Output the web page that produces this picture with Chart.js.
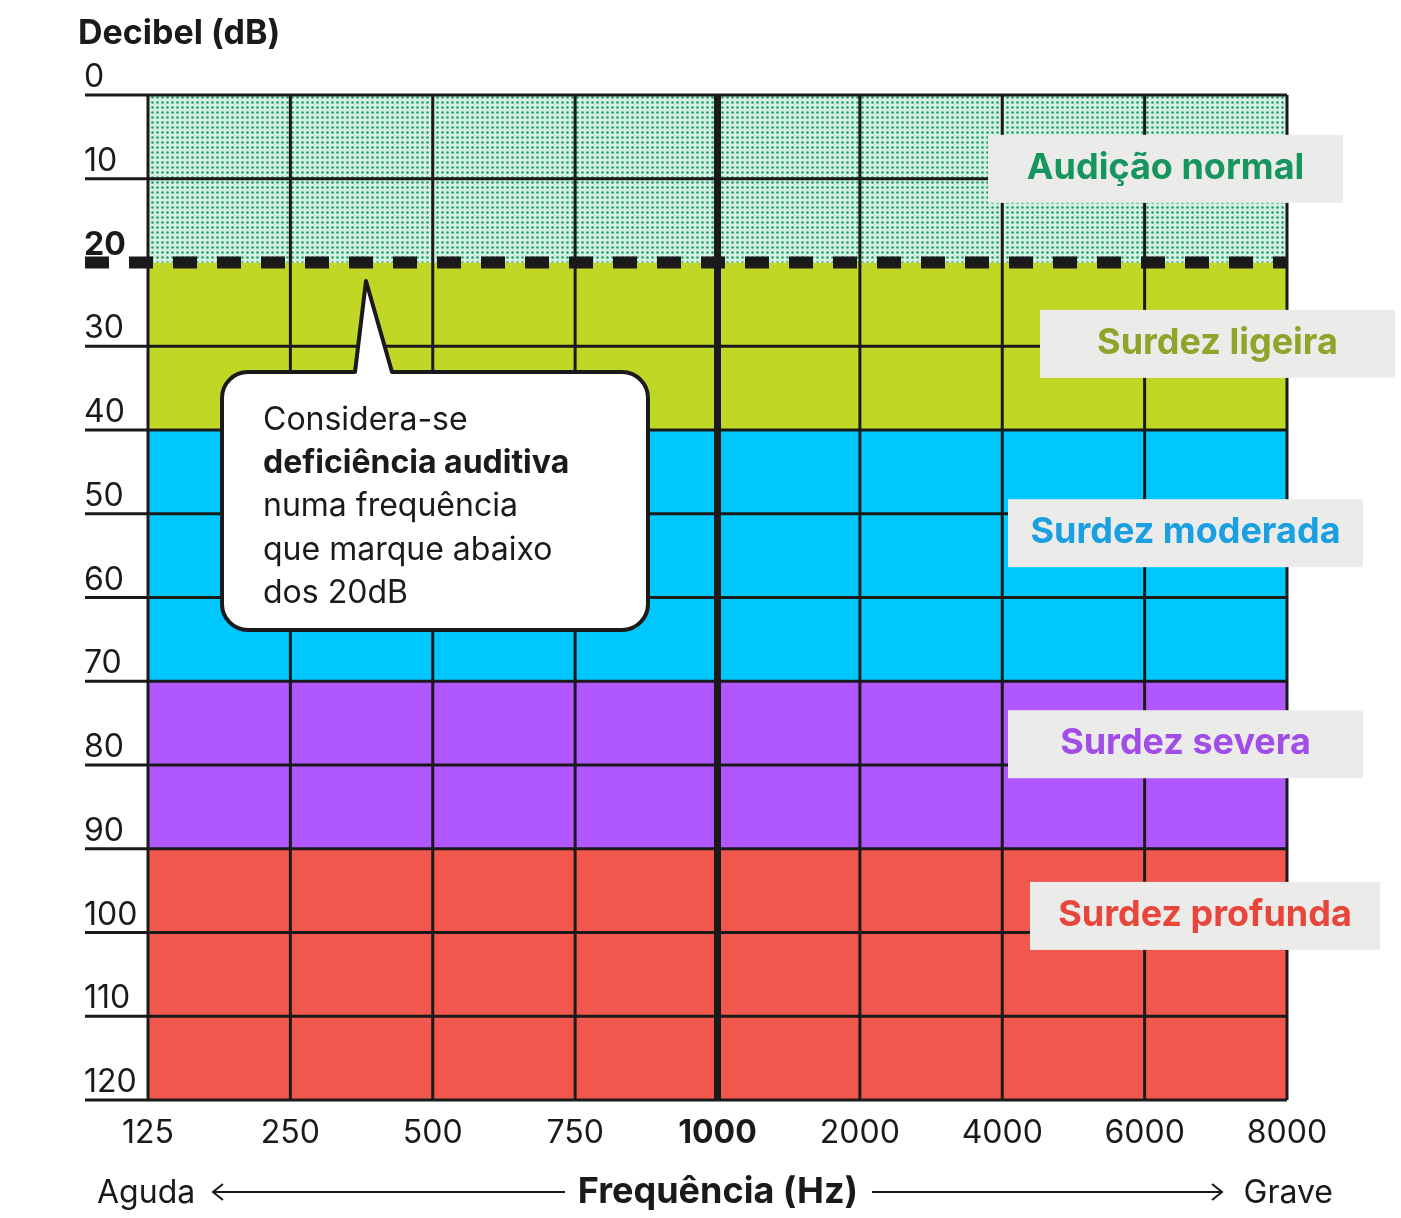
<!DOCTYPE html>
<html><head><meta charset="utf-8">
<script src="https://cdn.jsdelivr.net/npm/chart.js@4/dist/chart.umd.min.js"></script>
<style>html,body{margin:0;background:#fff}#wrap{width:1401px;height:1218px}</style>
</head><body><div id="wrap"><canvas id="c"></canvas></div>
<script>
const freqLabels = ['125', '250', '500', '750', '1000', '2000', '4000', '6000', '8000'];
const dbTicks = [0, 10, 20, 30, 40, 50, 60, 70, 80, 90, 100, 110, 120];
const bandEdges = [0, 20, 40, 70, 90, 120];
const bandNames = ['Audição normal', 'Surdez ligeira', 'Surdez moderada', 'Surdez severa', 'Surdez profunda'];
const bandLabelDb = [8.7, 29.6, 52.2, 77.4, 97.9];
const bandFills = [null, '#c0d725', '#00c8ff', '#b057ff', '#f2574e'];
const bandText = ['#17955f', '#8ea52a', '#1a9fe0', '#a14ee8', '#e8453b'];
const calloutLines = ['Considera-se', 'deficiência auditiva', 'numa frequência', 'que marque abaixo', 'dos 20dB'];

const FONT = 'Inter, "Noto Sans", sans-serif';

// dotted pattern for the "normal" band
function dotPattern() {
  const p = document.createElement('canvas');
  p.width = 5; p.height = 5;
  const g = p.getContext('2d');
  g.fillStyle = '#d6efe3'; g.fillRect(0, 0, 5, 5);
  g.fillStyle = '#1f9e68';
  g.beginPath(); g.arc(2.5, 2.5, 1.3, 0, Math.PI * 2); g.fill();
  return g.createPattern(p, 'repeat');
}

const datasets = bandEdges.map((v, i) => ({
  data: [{ x: 0, y: v }, { x: freqLabels.length - 1, y: v }],
  borderWidth: 0,
  pointRadius: 0,
  fill: i === 0 ? false : '-1',
  backgroundColor: i === 0 ? 'transparent' : (i === 1 ? dotPattern() : bandFills[i - 1])
}));
// band i (1..5) uses fill colour bandFills[i-1]; shift so ligeira etc. line up
datasets.forEach((d, i) => { if (i > 1) d.backgroundColor = bandFills[i - 1]; });

const overlay = {
  id: 'overlay',
  afterDatasetsDraw(chart) {
    const ctx = chart.ctx, xs = chart.scales.x, ys = chart.scales.y;
    const L = xs.getPixelForValue(0), R = xs.getPixelForValue(freqLabels.length - 1);
    const T = ys.getPixelForValue(0), B = ys.getPixelForValue(120);
    ctx.save();
    ctx.strokeStyle = '#1a1a1a';
    // vertical grid
    freqLabels.forEach((f, i) => {
      const x = xs.getPixelForValue(i);
      ctx.lineWidth = i === 4 ? 7 : 3;
      ctx.beginPath(); ctx.moveTo(x, T); ctx.lineTo(x, B); ctx.stroke();
    });
    // horizontal grid
    dbTicks.forEach(v => {
      const y = ys.getPixelForValue(v);
      if (v === 20) {
        ctx.lineWidth = 12; ctx.setLineDash([24, 20]);
        ctx.beginPath(); ctx.moveTo(85, y); ctx.lineTo(R, y); ctx.stroke();
        ctx.setLineDash([]);
      } else {
        ctx.lineWidth = 3;
        ctx.beginPath(); ctx.moveTo(85, y); ctx.lineTo(R, y); ctx.stroke();
      }
      ctx.fillStyle = '#1a1a1a';
      ctx.font = (v === 20 ? 'bold ' : '') + '32px ' + FONT;
      ctx.textAlign = 'left'; ctx.textBaseline = 'alphabetic';
      ctx.fillText(String(v), 84, y - 8);
    });
    // x tick labels
    ctx.textAlign = 'center'; ctx.textBaseline = 'middle';
    freqLabels.forEach((f, i) => {
      ctx.font = (i === 4 ? 'bold ' : '') + '32px ' + FONT;
      ctx.fillText(f, xs.getPixelForValue(i), 1133);
    });
    // titles
    ctx.textAlign = 'left';
    ctx.font = 'bold 34px ' + FONT;
    ctx.fillText('Decibel (dB)', 78, 34);
    ctx.font = '32px ' + FONT;
    ctx.fillText('Aguda', 97, 1193);
    ctx.textAlign = 'right';
    ctx.fillText('Grave', 1333, 1193);
    ctx.textAlign = 'center';
    ctx.font = 'bold 36px ' + FONT;
    ctx.fillText('Frequência (Hz)', 718, 1192);
    // arrows
    ctx.lineWidth = 2;
    [[565, 213], [872, 1222]].forEach(([a, b]) => {
      const d = Math.sign(b - a);
      ctx.beginPath(); ctx.moveTo(a, 1192); ctx.lineTo(b, 1192);
      ctx.moveTo(b - d * 10, 1184); ctx.lineTo(b, 1192); ctx.lineTo(b - d * 10, 1200);
      ctx.stroke();
    });
    // band labels
    const boxX = [988, 1040, 1008, 1008, 1030];
    const boxW = [355, 355, 355, 355, 350];
    bandNames.forEach((n, i) => {
      const y = ys.getPixelForValue(bandLabelDb[i]);
      ctx.fillStyle = '#ebebea';
      ctx.fillRect(boxX[i], y - 33, boxW[i], 68);
      ctx.fillStyle = bandText[i];
      ctx.font = 'bold 36px ' + FONT;
      ctx.textAlign = 'center'; ctx.textBaseline = 'middle';
      ctx.fillText(n, boxX[i] + boxW[i] / 2, y);
    });
    // callout
    ctx.fillStyle = '#fff'; ctx.strokeStyle = '#1a1a1a'; ctx.lineWidth = 4; ctx.lineJoin = 'round';
    const bx = 222, by = 372, bw = 426, bh = 258, r = 26;
    ctx.beginPath();
    ctx.moveTo(bx + r, by);
    ctx.lineTo(355, by); ctx.lineTo(366, 281); ctx.lineTo(392, by);
    ctx.arcTo(bx + bw, by, bx + bw, by + bh, r);
    ctx.arcTo(bx + bw, by + bh, bx, by + bh, r);
    ctx.arcTo(bx, by + bh, bx, by, r);
    ctx.arcTo(bx, by, bx + bw, by, r);
    ctx.closePath(); ctx.fill(); ctx.stroke();
    ctx.fillStyle = '#1a1a1a'; ctx.textAlign = 'left'; ctx.textBaseline = 'middle';
    calloutLines.forEach((t, i) => {
      ctx.font = (i === 1 ? 'bold ' : '') + '32px ' + FONT;
      ctx.fillText(t, 263, 420 + i * 43.3);
    });
    ctx.restore();
  }
};

new Chart(document.getElementById('c'), {
  type: 'line',
  data: { datasets },
  options: {
    responsive: true, maintainAspectRatio: false, animation: false,
    layout: { padding: { left: 148, right: 114, top: 95, bottom: 118 } },
    plugins: { legend: { display: false }, tooltip: { enabled: false } },
    scales: {
      x: { type: 'linear', min: 0, max: freqLabels.length - 1, display: false },
      y: { type: 'linear', min: 0, max: 120, reverse: true, display: false }
    }
  },
  plugins: [overlay]
});
</script></body></html>
